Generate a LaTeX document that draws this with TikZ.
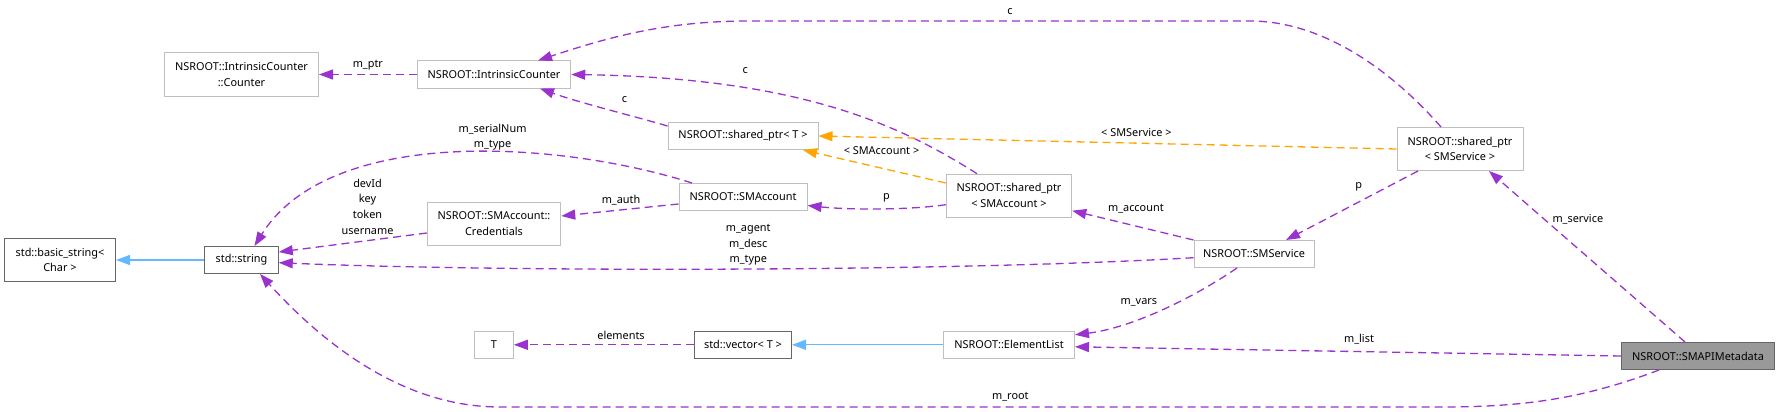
\documentclass[tikz,border=0pt]{standalone}
\usepackage{fontspec}
\setmainfont{Noto Sans}
\usetikzlibrary{arrows.meta}
\definecolor{edgepurple}{HTML}{9A32CD}
\definecolor{edgeorange}{HTML}{FFA500}
\definecolor{edgeblue}{HTML}{63B8FF}
\definecolor{boxgray}{HTML}{BFBFBF}
\definecolor{boxdark}{HTML}{666666}
\definecolor{curfill}{HTML}{999999}
\newcommand{\doxfont}{\fontsize{10.9}{15.7}\selectfont}

\begin{document}
\begin{tikzpicture}[x=1pt, y=-1pt,
        clsbox/.style = {rectangle, draw=boxgray, line width=1pt, fill=white,
                         minimum height=27pt, inner sep=0pt,
                         font=\doxfont, align=center},
        extbox/.style = {clsbox, draw=boxdark},
        curbox/.style = {clsbox, draw=boxdark, fill=curfill},
        tall/.style   = {minimum height=43pt},
        uses/.style   = {draw=edgepurple, line width=1.3pt,
                         dash pattern=on 8pt off 5pt,
                         -{Triangle[length=14pt, width=10pt]}},
        tmpl/.style   = {uses, draw=edgeorange},
        inh/.style    = {draw=edgeblue, line width=1.3pt,
                         -{Triangle[length=14pt, width=10pt]}},
        lbl/.style    = {font=\doxfont, inner sep=0pt, align=center}
    ]
        \useasboundingbox (0,0) rectangle (1780,412);

        \node[extbox, tall, minimum width=111pt] (basicstr) at (60,260)
            {std::basic\_string<\\Char >};
        \node[extbox, minimum width=73.5pt] (stdstr) at (241.5,260) {std::string};
        \node[clsbox, tall, minimum width=154pt] (counter) at (241.5,74.5)
            {NSROOT::IntrinsicCounter\\::Counter};
        \node[clsbox, minimum width=153.5pt] (icounter) at (494,74.5)
            {NSROOT::IntrinsicCounter};
        \node[clsbox, tall, minimum width=133.5pt] (creds) at (494,223.7)
            {NSROOT::SMAccount::\\Credentials};
        \node[clsbox, minimum width=38.7pt] (tparam) at (494,344.8) {T};
        \node[clsbox, minimum width=150pt] (sptrT) at (743,136)
            {NSROOT::shared\_ptr< T >};
        \node[clsbox, minimum width=128pt] (smacct) at (743,197) {NSROOT::SMAccount};
        \node[extbox, minimum width=97pt] (vect) at (743,344.8) {std::vector< T >};
        \node[clsbox, tall, minimum width=125.5pt] (sptracct) at (1009,195.7)
            {NSROOT::shared\_ptr\\< SMAccount >};
        \node[clsbox, minimum width=131pt] (elist) at (1009,344.8) {NSROOT::ElementList};
        \node[clsbox, minimum width=120pt] (smsvc) at (1254,254) {NSROOT::SMService};
        \node[clsbox, tall, minimum width=126pt] (sptrsvc) at (1460,149)
            {NSROOT::shared\_ptr\\< SMService >};
        \node[curbox, minimum width=152.6pt] (meta) at (1698,356)
            {NSROOT::SMAPIMetadata};

        \draw[inh] (stdstr) -- (basicstr);
        \draw[inh] (elist) -- (vect);
        \draw[uses] (icounter) -- (counter)
            node[lbl, pos=0.5, yshift=9pt] {m\_ptr};
        \draw[uses] (vect) -- (tparam)
            node[lbl, pos=0.405, yshift=9pt] {elements};
        \draw[uses] ([xshift=-19pt]sptrsvc.north) .. controls (1400,80) and (1330,21) ..
            (1250,21) -- (750,21) node[lbl, pos=0.48, yshift=9.6pt] {c}
            .. controls (670,21) and (615,35) .. ([xshift=44pt]icounter.north);
        \draw[uses] ([xshift=-32pt]sptracct.north) .. controls (900,125) and (800,78) ..
            (icounter.east) node[lbl, pos=0.7, yshift=18pt] {c};
        \draw[uses] ([yshift=10pt]sptrT.west) .. controls (630,115) and (580,103) ..
            ([xshift=46pt]icounter.south) node[lbl, pos=0.35, yshift=14pt] {c};
        \draw[tmpl] ([yshift=12.7pt]sptracct.west) -- ([xshift=60pt]sptrT.south)
            node[lbl, pos=0.45, yshift=18pt] {< SMAccount >};
        \draw[tmpl] (sptrsvc.west) -- (sptrT.east)
            node[lbl, pos=0.45, yshift=10.5pt] {< SMService >};
        \draw[uses] ([xshift=-51pt]smacct.north) .. controls (560,141) and (330,125) ..
            ([xshift=13pt]stdstr.north)
            node[lbl, pos=0.42, yshift=15pt] {m\_serialNum\\m\_type};
        \draw[uses] ([yshift=-9.3pt]creds.west) -- ([yshift=8pt]stdstr.east)
            node[lbl, pos=0.4, yshift=34pt] {devId\\key\\token\\username};
        \draw[uses] ([yshift=-7pt]smacct.west) -- ([yshift=7.7pt]creds.east)
            node[lbl, pos=0.49, yshift=10pt] {m\_auth};
        \draw[uses] ([yshift=-9pt]sptracct.west) .. controls (910,210) and (850,210) ..
            ([yshift=-8.5pt]smacct.east) node[lbl, pos=0.45, yshift=11pt] {p};
        \draw[uses] (smsvc.north west) -- ([yshift=-15pt]sptracct.east)
            node[lbl, pos=0.475, yshift=17pt] {m\_account};
        \draw[uses] ([xshift=-42pt]sptrsvc.south) -- ([xshift=32pt]smsvc.north)
            node[lbl, pos=0.45, yshift=15pt] {p};
        \draw[uses] ([yshift=-3.7pt]smsvc.west) .. controls (950,272) and (500,272) ..
            ([yshift=-2.7pt]stdstr.east)
            node[lbl, pos=0.48, yshift=24pt] {m\_agent\\m\_desc\\m\_type};
        \draw[uses] ([xshift=-17pt]smsvc.south) .. controls (1190,300) and (1130,328) ..
            ([yshift=10pt]elist.east) node[lbl, pos=0.62, yshift=16pt] {m\_vars};
        \draw[uses] (meta.west) -- ([yshift=-2pt]elist.east)
            node[lbl, pos=0.48, yshift=12pt] {m\_list};
        \draw[uses] ([xshift=-13pt]meta.north) -- ([xshift=29pt]sptrsvc.south)
            node[lbl, pos=0.72, anchor=west, xshift=8pt] {m\_service};
        \draw[uses] ([xshift=-39pt]meta.south) .. controls (1580,400) and (1520,407) ..
            (1440,407) -- (500,407) node[lbl, pos=0.457, yshift=10pt] {m\_root}
            .. controls (400,407) and (320,340) .. ([xshift=18.5pt]stdstr.south);
    \end{tikzpicture}
\end{document}
